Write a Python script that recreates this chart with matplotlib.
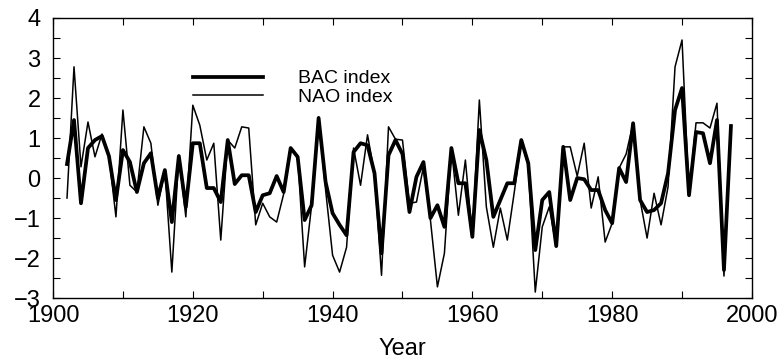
import numpy as np
import matplotlib
matplotlib.use("Agg")
import matplotlib.pyplot as plt
from matplotlib.ticker import MultipleLocator

plt.rcParams['font.family'] = ['Liberation Sans', 'DejaVu Sans']

years = np.arange(1902, 1998)

# BAC index (thick line), 1902-1997
bac = [0.35, 1.45, -0.63, 0.75, 0.95, 1.05, 0.55, -0.55,
       0.7, 0.4, -0.35, 0.37, 0.62, -0.5, 0.2, -1.1, 0.55, -0.72,
       0.87, 0.87, -0.25, -0.25, -0.6, 0.95, -0.15, 0.07, 0.07, -0.85,
       -0.43, -0.38, 0.05, -0.35, 0.75, 0.53, -1.05, -0.68, 1.5, -0.1,
       -0.88, -1.17, -1.43, 0.65, 0.87, 0.82, 0.12, -1.88, 0.57, 0.95,
       0.6, -0.85, 0.03, 0.4, -1.0, -0.68, -1.22, 0.75, -0.13, -0.13,
       -1.47, 1.2, 0.45, -0.97, -0.55, -0.13, -0.13, 0.95, 0.37, -1.8,
       -0.55, -0.35, -1.7, 0.78, -0.55, 0.0, -0.03, -0.3, -0.3, -0.8,
       -1.13, 0.25, -0.1, 1.37, -0.55, -0.85, -0.8, -0.63, 0.12, 1.7,
       2.25, -0.43, 1.15, 1.12, 0.37, 1.45, -2.3, 1.3]

# NAO index (thin line), 1902-1997
nao = [-0.5, 2.78, 0.28, 1.4, 0.53, 1.1, 0.55, -0.97,
       1.7, -0.18, -0.35, 1.28, 0.87, -0.68, 0.2, -2.35, 0.57, -0.97,
       1.82, 1.32, 0.45, 0.87, -1.55, 0.95, 0.75, 1.28, 1.25, -1.17,
       -0.63, -0.97, -1.1, -0.4, 0.75, 0.55, -2.22, -0.68, 1.53, -0.3,
       -1.93, -2.35, -1.73, 0.75, -0.18, 1.08, 0.1, -2.43, 1.28, 0.97,
       0.95, -0.63, -0.6, 0.28, -1.05, -2.72, -1.88, 0.75, -0.93, 0.45,
       -1.47, 1.95, -0.72, -1.73, -0.75, -1.55, -0.35, 0.95, 0.3, -2.85,
       -1.22, -0.72, -1.72, 0.78, 0.78, 0.05, 0.87, -0.75, 0.03, -1.6,
       -1.13, 0.25, 0.6, 1.37, -0.55, -1.5, -0.38, -1.17, -0.22, 2.78,
       3.45, -0.43, 1.38, 1.38, 1.25, 1.87, -2.45, 1.32]

fig = plt.figure(figsize=(7.8, 3.6), dpi=100)
ax = fig.add_axes([0.068, 0.172, 0.896, 0.778])

ax.plot(years, bac, color='black', lw=2.7, label='BAC index')
ax.plot(years, nao, color='black', lw=1.1, label='NAO index')

ax.set_xlim(1900, 2000)
ax.set_ylim(-3, 4)
ax.xaxis.set_major_locator(MultipleLocator(20))
ax.xaxis.set_minor_locator(MultipleLocator(10))
ax.yaxis.set_major_locator(MultipleLocator(1))
ax.yaxis.set_minor_locator(MultipleLocator(0.5))
ax.tick_params(which='both', direction='in', top=True, right=True,
               length=5, width=0.8, labelsize=17)
ax.tick_params(axis='x', pad=5)
ax.tick_params(axis='y', pad=9)
for s in ax.spines.values():
    s.set_linewidth(1.0)

ax.set_xlabel('Year', fontsize=17, labelpad=8)

ax.legend(loc='upper left', bbox_to_anchor=(0.2, 0.815), frameon=False,
          fontsize=14, handlelength=3.6, handletextpad=1.8,
          labelspacing=0.05, borderpad=0, borderaxespad=0)

fig.savefig('out.png', dpi=100)
